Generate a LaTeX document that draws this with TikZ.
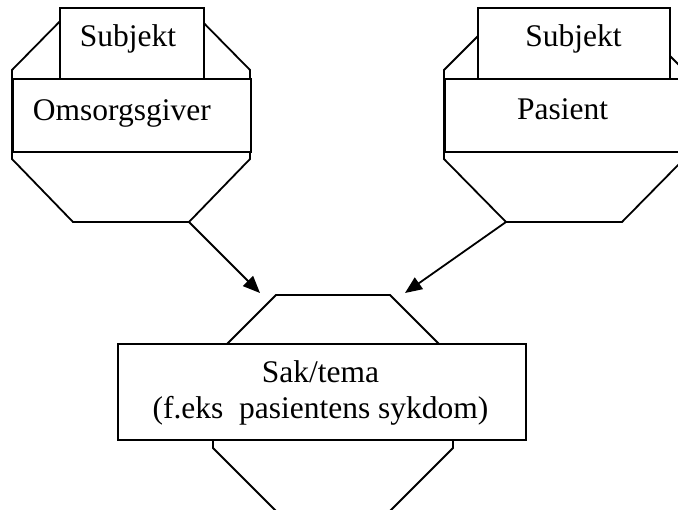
\documentclass[tikz,border=0pt]{standalone}
\usepackage{fontspec}
\setmainfont{Liberation Serif}
\usetikzlibrary{arrows.meta}
\begin{document}
\begin{tikzpicture}[x=1pt,y=-1pt,
  line width=1.8pt,
  oct/.style={draw=black, line join=miter},
  box/.style={draw=black, fill=white, inner sep=0pt, anchor=north west},
  txt/.style={inner sep=0pt, font=\fontsize{31.5}{36}\selectfont},
  conn/.style={draw=black, -{Triangle[length=17pt,width=14pt]}}]
\useasboundingbox (0,0) rectangle (678,510);
% left octagon
\draw[oct] (73,8) -- (189,8) -- (250,70) -- (250,159) -- (189,222) coordinate (lbr) -- (73,222) -- (12,159) -- (12,70) -- cycle;
% right octagon
\draw[oct] (506,8) -- (622,8) -- (684,70) -- (684,159) -- (622,222) -- (506,222) coordinate (rbl) -- (444,159) -- (444,70) -- cycle;
% bottom octagon
\draw[oct] (276,295) coordinate (btl) -- (390,295) coordinate (btr) -- (453,358) -- (453,448) -- (390,511) -- (276,511) -- (213,448) -- (213,358) -- cycle;
% boxes
\path (59,7) node[box, minimum width=144pt, minimum height=71pt] (subj1) {};
\path (12,78) node[box, minimum width=238pt, minimum height=73pt] (omsorg) {};
\path (477,7) node[box, minimum width=192pt, minimum height=71pt] (subj2) {};
\path (444,78) node[box, minimum width=240pt, minimum height=73pt] (pasient) {};
\path (117,343) node[box, minimum width=408pt, minimum height=96pt] (sak) {};
% texts
\node[txt, anchor=base west] (t1) at (79,47) {Subjekt};
\node[txt, anchor=base west] (t2) at (32,121) {Omsorgsgiver};
\node[txt, anchor=base] (t3) at (573.5,47) {Subjekt};
\node[txt, anchor=base] (t4) at (562.5,120) {Pasient};
\node[txt, anchor=base] (t5) at (320.5,383) {Sak/tema};
\node[txt, anchor=base] (t6) at (320.5,419) {(f.eks\ \ pasientens sykdom)};
% arrow targets
\coordinate (ltip) at (260,293);
\coordinate (rtip) at (405,293);
\draw[conn] (lbr) -- (ltip);
\draw[conn] (rbl) -- (rtip);
\end{tikzpicture}
\end{document}
